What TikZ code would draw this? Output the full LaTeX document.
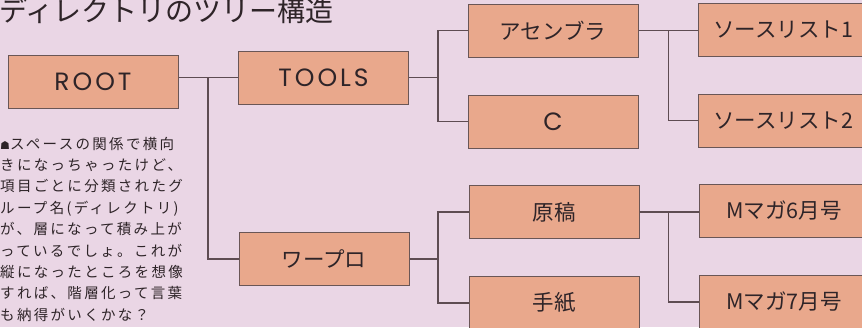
\documentclass[tikz,border=0pt]{standalone}
\usepackage{fontspec}
\newfontfamily\jp{Noto Sans CJK JP}
\newfontfamily\jpcap[LetterSpace=16]{Noto Sans CJK JP}
\newfontfamily\lat[LetterSpace=12]{Poppins}
\newfontfamily\sym{DejaVu Sans}
\definecolor{bg}{HTML}{EAD6E5}
\definecolor{boxfill}{HTML}{E9A88C}
\definecolor{boxline}{HTML}{6A5656}
\definecolor{connc}{HTML}{5E4C52}
\definecolor{ink}{HTML}{2E2428}
\tikzset{
  box/.style={draw=boxline, fill=boxfill, line width=1pt, minimum width=170pt, minimum height=53pt, inner sep=0pt, text=ink},
  latlab/.style={font=\lat\fontsize{25}{25}\selectfont},
  jplab/.style={font=\jp\fontsize{21.5}{21.5}\selectfont},
  conn/.style={draw=connc, line width=1.1pt},
  captxt/.style={font=\jpcap\fontsize{14.5}{14.5}\selectfont, text=ink, inner sep=0pt, anchor=base west}
}
\begin{document}
\begin{tikzpicture}[x=1pt,y=-1pt]
\useasboundingbox (0,0) rectangle (862,327);
\clip (0,0) rectangle (862,327);
\fill[bg] (0,0) rectangle (862,327);
% title
\node[anchor=base west, font=\jp\fontsize{28}{28}\selectfont, text=ink, inner sep=0pt] (title) at (-1,21) {ディレクトリのツリー構造};
% boxes
\node[box, latlab] (root) at (93,82) {ROOT};
\node[box, latlab] (tools) at (323.5,77.5) {TOOLS};
\node[box, jplab] (wapuro) at (324,259) {ワープロ};
\node[box, jplab] (asm) at (553,30.5) {アセンブラ};
\node[box, latlab] (c) at (553,121.5) {C};
\node[box, jplab] (genko) at (554,212) {原稿};
\node[box, jplab] (tegami) at (554,303) {手紙};
\node[box, jplab] (src1) at (783,29.5) {ソースリスト1};
\node[box, jplab] (src2) at (783,120.5) {ソースリスト2};
\node[box, jplab] (m6) at (784,210.5) {Mマガ6月号};
\node[box, jplab] (m7) at (784,302) {Mマガ7月号};
% junction columns
\coordinate (j1) at (208,0);
\coordinate (j2) at (438,0);
\coordinate (j3) at (668.5,0);
% connectors
\draw[conn] (root.east |- tools.west) -- (tools.west);
\draw[conn] (j1 |- tools.west) -- (j1 |- wapuro.west) -- (wapuro.west);
\draw[conn] (tools.east) -- (j2 |- tools.east);
\draw[conn] (asm.west) -- (j2 |- asm.west) -- (j2 |- c.west) -- (c.west);
\draw[conn] (wapuro.east) -- (j2 |- wapuro.east);
\draw[conn] (genko.west) -- (j2 |- genko.west) -- (j2 |- tegami.west) -- (tegami.west);
\draw[conn] (asm.east) -- (src1.west |- asm.east);
\draw[conn] (j3 |- asm.east) -- (j3 |- src2.west) -- (src2.west);
\draw[conn] (genko.east) -- (m6.west |- genko.east);
\draw[conn] (j3 |- genko.east) -- (j3 |- m7.west) -- (m7.west);
% caption
\foreach \t [count=\i] in {{{\sym\fontsize{11}{11}\selectfont ☗}スペースの関係で横向},{きになっちゃったけど、},{項目ごとに分類されたグ},{ループ名(ディレクトリ)},{が、層になって積み上が},{っているでしょ。これが},{縦になったところを想像},{すれば、階層化って言葉},{も納得がいくかな？}}
  \node[captxt] (cap\i) at (0,{149+21.4*(\i-1)}) {\t};
\end{tikzpicture}
\end{document}
